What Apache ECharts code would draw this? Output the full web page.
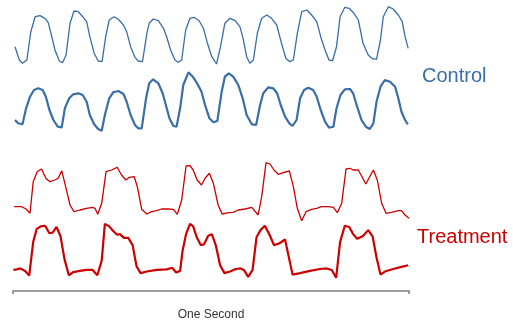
<!DOCTYPE html>
<html><head><meta charset="utf-8">
<script src="https://cdn.jsdelivr.net/npm/echarts@6/dist/echarts.min.js"></script>
<style>html,body{margin:0;padding:0;background:#fff}#c{width:513px;height:322px}</style>
</head><body><div id="c"></div>
<script>
// time in ms (0..1000 = one second), value in arbitrary signal units
const controlUpper = [[5,18.3],[16,5],[24,1.7],[35,5],[45,33.3],[56,48.3],[68,49.3],[81,46.7],[89,42.3],[96,31.7],[106,15],[117,4],[125,2.3],[134,10],[144,41.7],[154,54],[165,53.3],[176,48.3],[186,43.3],[194,28.3],[205,11.7],[215,4],[225,3.3],[234,28.3],[243,45],[255,48.3],[266,45.7],[279,40],[287,33.3],[297,18.3],[308,7.7],[316,4],[327,3.3],[338,31.7],[344,41.7],[354,46],[367,44.3],[380,36.7],[388,28.3],[398,15],[409,5],[417,2.7],[426,5],[436,35],[447,46.7],[457,47.7],[470,44.3],[481,36.7],[491,21.7],[502,8.3],[514,1],[524,18.3],[535,41.7],[548,46.7],[561,44.3],[573,38.3],[581,26.7],[590,8.3],[598,1.7],[607,5],[617,31.7],[628,46.7],[641,50],[653,46.7],[666,40],[678,21.7],[689,6.7],[699,3.3],[708,5],[718,31.7],[729,53.3],[742,55],[754,50],[767,43.3],[777,28.3],[788,15],[798,5],[807,4.3],[817,18.3],[826,48.3],[838,57.7],[849,56.7],[861,51.7],[872,45],[884,21.7],[897,10],[906,6.7],[918,5.7],[928,25],[935,48.3],[948,58.3],[960,56],[973,50],[983,43.3],[990,28.3],[998,16.7]];
const controlLower = [[5,12],[13,8.7],[24,7.7],[33,23.7],[43,35.3],[53,42],[64,43.7],[75,42],[83,35.3],[92,22],[102,12],[113,5.3],[123,4.7],[131,23.7],[142,33.7],[152,37.7],[165,38.7],[176,37],[186,30.3],[194,17],[205,7.7],[215,3],[224,1.3],[232,17],[243,33.7],[253,39.7],[266,41],[279,38],[287,30.3],[297,17],[308,7],[316,3.7],[325,3.7],[336,33.7],[344,48.7],[354,52.7],[367,48.7],[378,38.7],[386,27],[395,13.7],[405,6],[413,5.3],[422,23.7],[430,47],[443,59.7],[454,55.3],[465,48.7],[476,40.3],[485,27],[496,13.7],[506,9.7],[516,11],[527,40.3],[535,55.3],[545,58.7],[556,55.3],[569,47],[580,33.7],[590,17],[603,7.7],[614,7],[624,27],[632,38.7],[645,44.7],[657,43.7],[667,38.7],[676,27],[687,15.3],[698,8.7],[706,6],[716,12],[725,33.7],[735,42],[746,44.3],[758,42],[767,35.3],[777,22],[788,10.3],[798,4.3],[809,5.3],[817,23.7],[827,37],[838,42.7],[851,43],[859,38.7],[869,25.3],[880,12],[891,5.3],[901,3],[910,8.7],[918,30.3],[928,45.3],[939,52],[952,50.3],[965,45.3],[973,33.7],[981,20.3],[990,12],[997,7.7]];
const treatmentUpper = [[3,15.3],[22,15.3],[33,13],[43,8.7],[51,40.3],[61,50.3],[72,53],[83,43.7],[93,40.3],[106,42],[114,43.7],[123,51.3],[131,38.7],[144,17],[154,10.3],[169,12],[186,13.7],[201,14.7],[207,13.7],[214,7.7],[224,18.7],[235,50.3],[249,52],[263,54.7],[274,47],[285,42],[294,44.7],[306,45.3],[314,35.3],[325,12.7],[338,8],[350,10.3],[363,11.3],[375,13],[392,13],[405,12.7],[415,7.7],[426,22],[437,56],[447,56.3],[455,52],[465,42],[476,37],[485,43.7],[496,48.7],[506,38.7],[518,17],[528,8],[544,9.3],[556,9.7],[569,12],[586,13],[603,14.7],[619,7],[628,25.3],[639,59.3],[649,58],[659,52],[670,47.7],[682,49.3],[698,51],[708,35.3],[718,13.7],[729,1.3],[740,10.3],[754,12.7],[767,13.7],[779,15.3],[796,15.3],[809,14.7],[819,9.3],[830,18.7],[841,53],[851,53.7],[859,52],[872,52],[891,38],[910,52],[920,42],[931,18.7],[942,8.7],[956,9.7],[973,11.3],[981,11.3],[990,7],[1000,3.7]];
const treatmentLower = [[1,9.7],[9,10.3],[19,11.3],[30,8.7],[41,3.7],[51,39.7],[60,53.7],[70,56.3],[81,57],[92,49],[100,49.7],[110,55.7],[120,45.7],[130,21.3],[141,4],[152,7.3],[169,8.7],[186,9.7],[201,9.7],[213,4],[224,19.7],[232,59],[243,56.3],[253,51.3],[263,47.3],[270,48],[280,44],[291,44],[302,36.3],[312,13.7],[322,6.3],[338,8],[363,9.7],[388,10.3],[402,12],[412,7],[422,8.7],[428,29.7],[437,48],[447,59],[455,56.3],[464,44.7],[474,36.3],[482,37],[493,46.3],[502,48],[512,36.3],[523,14.7],[534,6.3],[548,8],[563,10.7],[575,11.3],[583,9.7],[594,2.3],[605,9.7],[615,44.7],[625,52.3],[636,57],[649,46.3],[659,36.3],[672,38],[687,42.3],[706,4.7],[725,6.3],[750,8.7],[775,10.7],[792,11.3],[805,9.7],[816,1.3],[826,39.7],[838,57],[849,55.7],[859,48],[869,43],[883,45.7],[897,52.3],[908,45.7],[918,23],[928,4.7],[939,8],[960,10.7],[981,13],[998,14.7]];
const groupLabels = ['Control', 'Treatment'];
const axisTitle = 'One Second';

const BLUE = '#3a6ea8', RED = '#cc0000';
const FONT = 'Liberation Sans, Arial, sans-serif';
const grids = [
  {left: 13, width: 396, top: 5, height: 60},
  {left: 13, width: 396, top: 70, height: 62},
  {left: 13, width: 396, top: 160, height: 62},
  {left: 13, width: 396, top: 222, height: 61}
];
const yMax = [60, 62, 62, 61];
const xAxes = grids.map((g, i) => ({
  type: 'value', gridIndex: i, min: 0, max: 1000, interval: 1000,
  show: i === 3,
  position: 'bottom',
  offset: 12,
  axisLine: {show: true, onZero: false, lineStyle: {color: '#7f7f7f', width: 1.5}},
  axisTick: {show: true, length: 3, lineStyle: {color: '#7f7f7f', width: 1.5}},
  axisLabel: {show: false},
  splitLine: {show: false},
  name: i === 3 ? axisTitle : '', nameLocation: 'middle', nameGap: 18,
  nameTextStyle: {color: '#333', fontSize: 12, fontFamily: FONT}
}));
const yAxes = grids.map((g, i) => ({type: 'value', gridIndex: i, min: 0, max: yMax[i], show: false}));
const mk = (data, i, color, w) => ({
  type: 'line', xAxisIndex: i, yAxisIndex: i, data, symbol: 'none', smooth: false,
  lineStyle: {color, width: w}, animation: false
});
const chart = echarts.init(document.getElementById('c'), null, {renderer: 'canvas'});
chart.setOption({
  animation: false,
  grid: grids,
  xAxis: xAxes,
  yAxis: yAxes,
  series: [
    mk(controlUpper, 0, BLUE, 1.3),
    mk(controlLower, 1, BLUE, 2.2),
    mk(treatmentUpper, 2, RED, 1.3),
    mk(treatmentLower, 3, RED, 2.2)
  ],
  graphic: [
    {type: 'text', left: 422, top: 66, style: {text: groupLabels[0], fill: BLUE, font: '20px ' + FONT}},
    {type: 'text', left: 417, top: 227, style: {text: groupLabels[1], fill: RED, font: '20px ' + FONT}}
  ]
});
</script></body></html>
